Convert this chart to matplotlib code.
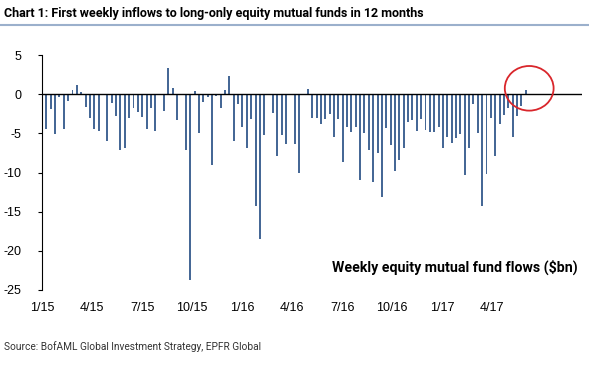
import matplotlib.pyplot as plt
from matplotlib.patches import Ellipse
from matplotlib.lines import Line2D
import numpy as np

# weekly flows into long-only equity mutual funds, $bn (Jan 2015 - Feb 2017)
flows = [
    -4.4, -1.9, -5.1, -0.35, -4.4, -0.85, 0.6, 1.2, 0.25, -1.6,
    -3.0, -4.45, -4.7, -0.1, -5.95, -1.1, -2.75, -7.1, -6.8, -3.0,
    -1.75, -2.25, -2.9, -4.4, -1.8, -4.7, -0.1, -2.2, 3.3, 0.85,
    -3.35, 0.05, -7.15, -23.7, 0.4, -5.0, -1.0, -0.4, -9.05, -0.25,
    -1.7, 0.6, 2.35, -5.95, -1.3, -4.2, -6.85, -3.1, -14.25, -18.5,
    -5.15, -0.1, -2.45, -7.85, -5.15, -6.4, -0.1, -6.3, -10.0, -0.15,
    0.7, -3.0, -3.0, -3.8, -3.1, -2.5, -5.4, -3.1, -8.6, -4.15,
    -4.8, -4.15, -11.0, -4.9, -7.15, -11.25, -7.5, -13.1, -4.3, -6.45,
    -9.75, -8.4, -6.8, -3.55, -3.35, -4.65, -3.2, -4.6, -4.8, -4.8,
    -4.2, -6.9, -5.45, -6.2, -5.65, -5.1, -10.3, -6.9, -1.2, -5.0,
    -14.25, -10.2, -3.0, -7.9, -3.8, -2.6, -1.75, -5.5, -2.8, -1.5,
    0.6,
]
tick_labels = ["1/15", "4/15", "7/15", "10/15", "1/16",
               "4/16", "7/16", "10/16", "1/17", "4/17"]
y_ticks = [5, 0, -5, -10, -15, -20, -25]

plt.rcParams["font.family"] = ["Liberation Sans", "DejaVu Sans"]
plt.rcParams["axes.unicode_minus"] = False
narrow = ["Roboto", "Liberation Sans"]

fig = plt.figure(figsize=(5.89, 3.65), dpi=100)
ax = fig.add_axes([0.0713, 0.2055, 0.9167, 0.6435])

x = np.arange(len(flows))
ax.bar(x, flows, width=0.45, color="#466896")
ax.axhline(0, color="black", linewidth=1.0, zorder=3)

ax.set_ylim(-25, 5)
ax.set_xlim(-0.7, 122.9)
ax.set_yticks(y_ticks)
ax.tick_params(axis="y", direction="out", length=3, width=0.8, labelsize=9,
               pad=12, color="black")

# quarterly labels, evenly spread as in the source chart
ax.set_xticks(np.linspace(-1.0, 102.3, len(tick_labels)))
ax.set_xticklabels(tick_labels)
ax.tick_params(axis="x", length=0, labelsize=9, pad=9)

for s in ["top", "right", "bottom"]:
    ax.spines[s].set_visible(False)
ax.spines["left"].set_linewidth(0.8)

ax.text(0.992, 0.095, "Weekly equity mutual fund flows ($bn)", transform=ax.transAxes,
        ha="right", va="center", fontsize=10.2, fontweight="bold", family=narrow)

# red circle around the latest inflow
ax.add_patch(Ellipse((110.8, 0.76), 11.2, 5.7, fill=False, edgecolor="#d9262b",
                     linewidth=1.3, zorder=4, clip_on=False))

fig.text(0.006, 1 - 13 / 365, "Chart 1: First weekly inflows to long-only equity mutual funds in 12 months",
         ha="left", va="center", fontsize=9, fontweight="bold", family=narrow)
fig.add_artist(Line2D([0, 1], [1 - 25 / 365] * 2, color="#9bb0cc", linewidth=1.5))

fig.text(0.006, 1 - 347 / 365, "Source: BofAML Global Investment Strategy, EPFR Global",
         ha="left", va="center", fontsize=7.3, color="#333333", family=narrow)

fig.savefig("out.png", dpi=100)
